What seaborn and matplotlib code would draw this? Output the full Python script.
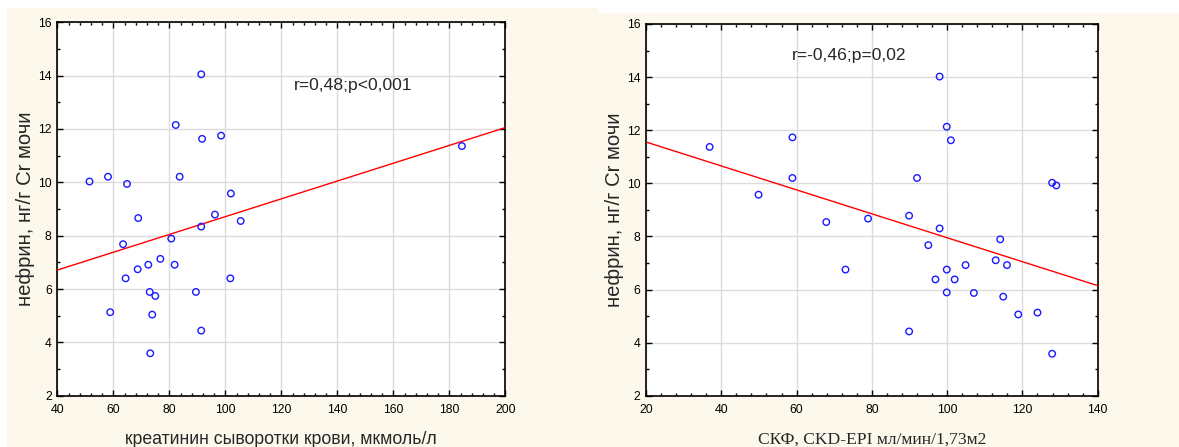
import matplotlib
matplotlib.use("Agg")
import matplotlib.pyplot as plt
from matplotlib.patches import Rectangle
from matplotlib.ticker import MultipleLocator
import numpy as np
import pandas as pd
import seaborn as sns

# Serum creatinine (µmol/l) vs urinary nephrin (ng/g Cr)
creatinine = [51.5, 58.1, 64.9, 68.9, 63.5, 64.4, 68.7, 72.5, 76.8, 73.0,
              75.0, 58.9, 73.9, 73.2, 80.7, 81.9, 82.3, 83.7, 91.4, 91.7,
              91.4, 91.4, 89.5, 96.3, 98.5, 102.0, 101.8, 105.5, 184.5]
nephrin_cr = [10.03, 10.21, 9.94, 8.66, 7.68, 6.40, 6.74, 6.91, 7.13, 5.89,
              5.74, 5.13, 5.04, 3.59, 7.89, 6.91, 12.15, 10.21, 14.05, 11.63,
              8.34, 4.44, 5.89, 8.79, 11.75, 9.58, 6.40, 8.55, 11.36]

# eGFR CKD-EPI (ml/min/1.73m2) vs urinary nephrin (ng/g Cr)
egfr = [36.9, 49.9, 58.9, 58.9, 67.9, 73.0, 79.0, 89.9, 89.9, 92.0,
        95.0, 96.9, 98.0, 98.0, 99.9, 101.0, 99.9, 99.9, 102.0, 104.9,
        107.1, 112.9, 114.1, 115.9, 114.9, 118.9, 124.0, 127.9, 129.0, 127.9]
nephrin_gfr = [11.37, 9.57, 11.73, 10.20, 8.54, 6.75, 8.67, 8.78, 4.42, 10.20,
               7.67, 6.38, 14.02, 8.30, 12.13, 11.62, 6.75, 5.89, 6.38, 6.92,
               5.87, 7.10, 7.89, 6.92, 5.73, 5.06, 5.13, 10.02, 9.92, 3.58]

# Fitted regression lines (intercept, slope)
fit_creatinine = [5.375, 0.03338]
fit_egfr = [12.457, -0.04508]

x_ticks_left = [40, 60, 80, 100, 120, 140, 160, 180, 200]
x_ticks_right = [20, 40, 60, 80, 100, 120, 140]
y_ticks = [2, 4, 6, 8, 10, 12, 14, 16]

ylabel = "нефрин, нг/г Cr мочи"
xlabel_left = "креатинин сыворотки крови, мкмоль/л"
xlabel_right = "СКФ, CKD-EPI мл/мин/1,73м2"
note_left = "r=0,48;p<0,001"
note_right = "r=-0,46;p=0,02"

sns.set_style("ticks")
plt.rcParams["font.family"] = ["Liberation Sans", "DejaVu Sans"]

W, H = 1179, 447
fig = plt.figure(figsize=(W / 100, H / 100), dpi=100, facecolor="white")

cream = "#fdf8ec"
fig.patches.append(Rectangle((7 / W, 0), (597 - 7) / W, (H - 8) / H,
                             transform=fig.transFigure, color=cream, zorder=-10))
fig.patches.append(Rectangle((597 / W, 0), (W - 597) / W, (H - 13) / H,
                             transform=fig.transFigure, color=cream, zorder=-10))

ax1 = fig.add_axes([57.3 / W, (H - 395.7) / H, 448 / W, 373.4 / H])
ax2 = fig.add_axes([646 / W, (H - 395.7) / H, 451.7 / W, 371.7 / H])


def draw_panel(ax, x, y, fit, xlim, xticks, xlabel, note, note_xy, xfont):
    ax.set_facecolor("white")
    ax.set_xlim(*xlim)
    ax.set_ylim(2, 16)
    ax.set_xticks(xticks)
    ax.set_yticks(y_ticks)
    ax.xaxis.set_minor_locator(MultipleLocator(4))
    ax.yaxis.set_minor_locator(MultipleLocator(1))
    ax.grid(True, which="major", color="#dcdcdc", linewidth=1.0, zorder=0)
    ax.set_axisbelow(True)

    line_x = np.array(xlim, dtype=float)
    line_df = pd.DataFrame({"x": line_x, "y": fit[0] + fit[1] * line_x})
    sns.lineplot(data=line_df, x="x", y="y", ax=ax, color="#ff0000",
                 linewidth=1.0, zorder=3)

    df = pd.DataFrame({"x": x, "y": y})
    sns.scatterplot(data=df, x="x", y="y", ax=ax, marker="o", s=22,
                    facecolors="none", edgecolor="#1a1aff", linewidth=1.0,
                    zorder=4)

    ax.tick_params(which="both", direction="in", top=True, right=True,
                   colors="black", labelsize=8.8)
    ax.tick_params(axis="x", pad=6)
    ax.tick_params(axis="y", pad=4)
    ax.tick_params(which="major", length=4, width=1)
    ax.tick_params(which="minor", length=2, width=1)
    for side in ["left", "right", "top", "bottom"]:
        ax.spines[side].set_visible(True)
        ax.spines[side].set_color("black")
        ax.spines[side].set_linewidth(1.2)

    ax.set_ylabel(ylabel, fontsize=14.6, labelpad=2)
    ax.set_xlabel(xlabel, labelpad=11, **xfont)
    ax.text(note_xy[0], note_xy[1], note, fontsize=12.6, va="center",
            ha="left", zorder=5)


draw_panel(ax1, creatinine, nephrin_cr, fit_creatinine, (40, 200),
           x_ticks_left, xlabel_left, note_left, (124.5, 13.62),
           dict(fontsize=12.7))
draw_panel(ax2, egfr, nephrin_gfr, fit_egfr, (20, 140),
           x_ticks_right, xlabel_right, note_right, (58.8, 14.8),
           dict(fontsize=12.6, family=["Liberation Serif", "DejaVu Serif"]))

fig.savefig("out.png", dpi=100, facecolor=fig.get_facecolor())
